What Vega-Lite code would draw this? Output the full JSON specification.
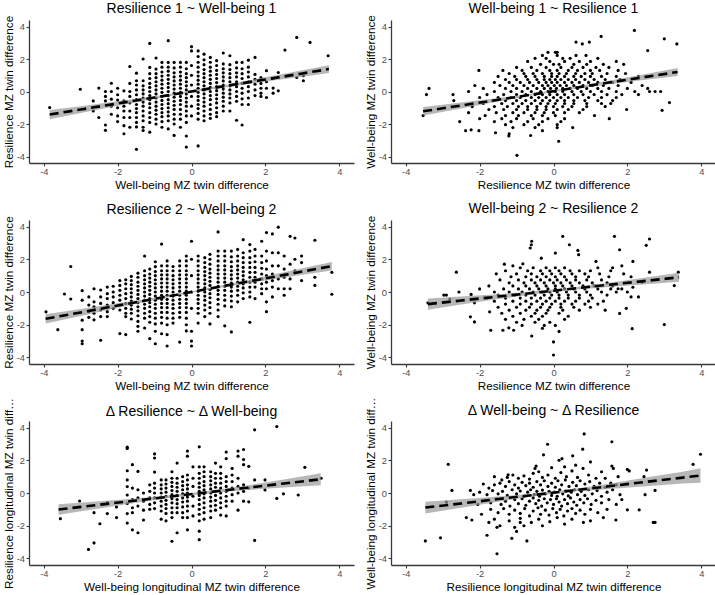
{
"$schema": "https://vega.github.io/schema/vega-lite/v6.json",
"padding": {"left": 3, "top": 1, "right": 0, "bottom": 0},
"config": {
  "view": {"stroke": null},
  "font": "Liberation Sans",
  "title": {"fontSize": 14, "font": "Liberation Sans", "fontWeight": "normal", "color": "#000", "anchor": "middle", "offset": -1, "frame": "group"},
  "axis": {"grid": false, "domainColor": "#3a3a3a", "domainWidth": 1.3, "tickColor": "#3a3a3a", "tickWidth": 1.1, "tickSize": 3, "labelColor": "#4d4d4d", "labelFontSize": 9.3, "labelFont": "Liberation Sans", "titleFont": "Liberation Sans", "titleFontSize": 11.7, "titleFontWeight": "normal", "titleColor": "#000", "labelPadding": 1.5, "labelExpr": "datum.value < 0 ? '-' + abs(datum.value) : '' + datum.value"},
  "axisX": {"titlePadding": 3},
  "axisY": {"titlePadding": 1.5}
},
"columns": 2,
"bounds": "flush",
"spacing": {"row": 57, "column": 37},
"datasets": {
"a": [
{"x":-3.84,"y":-0.99},{"x":-3.01,"y":0.14},{"x":-2.66,"y":-0.58},{"x":-2.66,"y":-1.2},{"x":-2.51,"y":0.21},{"x":-2.51,"y":-1.6},{"x":-2.33,"y":0},{"x":-2.33,"y":-0.3},{"x":-2.33,"y":-0.58},{"x":-2.33,"y":-2.06},{"x":-2.33,"y":-2.39},{"x":-2.17,"y":0.51},{"x":-2.17,"y":0},{"x":-2.17,"y":-0.47},{"x":-2.17,"y":-0.9},{"x":-2.17,"y":-1.4},{"x":-2,"y":0.2},{"x":-2,"y":-0.2},{"x":-2,"y":-0.53},{"x":-2,"y":-1},{"x":-2,"y":-1.5},{"x":-2,"y":-1.85},{"x":-1.83,"y":0.04},{"x":-1.83,"y":-0.58},{"x":-1.83,"y":-0.9},{"x":-1.83,"y":-1.2},{"x":-1.83,"y":-1.6},{"x":-1.83,"y":-2.1},{"x":-1.83,"y":-2.6},{"x":-1.67,"y":1.54},{"x":-1.67,"y":0.5},{"x":-1.67,"y":0},{"x":-1.67,"y":-0.3},{"x":-1.67,"y":-0.7},{"x":-1.67,"y":-1.2},{"x":-1.67,"y":-1.6},{"x":-1.67,"y":-2.2},
{"x":-1.49,"y":1.13},{"x":-1.49,"y":0.66},{"x":-1.49,"y":0.4},{"x":-1.49,"y":0.1},{"x":-1.49,"y":-0.2},{"x":-1.49,"y":-0.5},{"x":-1.49,"y":-0.8},{"x":-1.49,"y":-1.05},{"x":-1.49,"y":-1.3},{"x":-1.49,"y":-1.6},{"x":-1.49,"y":-1.9},{"x":-1.49,"y":-2.18},{"x":-1.49,"y":-3.56},
{"x":-1.31,"y":2},{"x":-1.31,"y":0.66},{"x":-1.31,"y":0.35},{"x":-1.31,"y":0.1},{"x":-1.31,"y":-0.15},{"x":-1.31,"y":-0.4},{"x":-1.31,"y":-0.65},{"x":-1.31,"y":-0.9},{"x":-1.31,"y":-1.2},{"x":-1.31,"y":-1.5},{"x":-1.31,"y":-1.8},{"x":-1.31,"y":-2.2},{"x":-1.31,"y":-2.4},
{"x":-1.13,"y":2.96},{"x":-1.13,"y":1.48},{"x":-1.13,"y":1.1},{"x":-1.13,"y":0.8},{"x":-1.13,"y":0.5},{"x":-1.13,"y":0.25},{"x":-1.13,"y":0},{"x":-1.13,"y":-0.25},{"x":-1.13,"y":-0.5},{"x":-1.13,"y":-0.75},{"x":-1.13,"y":-1},{"x":-1.13,"y":-1.3},{"x":-1.13,"y":-1.6},{"x":-1.13,"y":-1.9},{"x":-1.13,"y":-2.5},
{"x":-0.96,"y":2.06},{"x":-0.96,"y":1.38},{"x":-0.96,"y":1.1},{"x":-0.96,"y":0.85},{"x":-0.96,"y":0.6},{"x":-0.96,"y":0.35},{"x":-0.96,"y":0.1},{"x":-0.96,"y":-0.15},{"x":-0.96,"y":-0.4},{"x":-0.96,"y":-0.65},{"x":-0.96,"y":-0.9},{"x":-0.96,"y":-1.15},{"x":-0.96,"y":-1.4},{"x":-0.96,"y":-1.7},{"x":-0.96,"y":-2},
{"x":-0.8,"y":1.79},{"x":-0.8,"y":1.5},{"x":-0.8,"y":1.2},{"x":-0.8,"y":0.95},{"x":-0.8,"y":0.7},{"x":-0.8,"y":0.45},{"x":-0.8,"y":0.2},{"x":-0.8,"y":-0.05},{"x":-0.8,"y":-0.3},{"x":-0.8,"y":-0.55},{"x":-0.8,"y":-0.8},{"x":-0.8,"y":-1.05},{"x":-0.8,"y":-1.3},{"x":-0.8,"y":-1.55},{"x":-0.8,"y":-1.85},{"x":-0.8,"y":-2.2},
{"x":-0.63,"y":3.13},{"x":-0.63,"y":1.79},{"x":-0.63,"y":1.5},{"x":-0.63,"y":1.25},{"x":-0.63,"y":1},{"x":-0.63,"y":0.75},{"x":-0.63,"y":0.5},{"x":-0.63,"y":0.25},{"x":-0.63,"y":0},{"x":-0.63,"y":-0.25},{"x":-0.63,"y":-0.5},{"x":-0.63,"y":-0.75},{"x":-0.63,"y":-1},{"x":-0.63,"y":-1.25},{"x":-0.63,"y":-1.5},{"x":-0.63,"y":-1.8},{"x":-0.63,"y":-2.3},
{"x":-0.47,"y":1.79},{"x":-0.47,"y":1.45},{"x":-0.47,"y":1.15},{"x":-0.47,"y":0.9},{"x":-0.47,"y":0.65},{"x":-0.47,"y":0.4},{"x":-0.47,"y":0.15},{"x":-0.47,"y":-0.1},{"x":-0.47,"y":-0.35},{"x":-0.47,"y":-0.6},{"x":-0.47,"y":-0.85},{"x":-0.47,"y":-1.1},{"x":-0.47,"y":-1.4},{"x":-0.47,"y":-1.7},{"x":-0.47,"y":-2},{"x":-0.47,"y":-2.7},
{"x":-0.3,"y":1.79},{"x":-0.3,"y":1.5},{"x":-0.3,"y":1.2},{"x":-0.3,"y":0.95},{"x":-0.3,"y":0.7},{"x":-0.3,"y":0.45},{"x":-0.3,"y":0.2},{"x":-0.3,"y":-0.05},{"x":-0.3,"y":-0.3},{"x":-0.3,"y":-0.55},{"x":-0.3,"y":-0.8},{"x":-0.3,"y":-1.1},{"x":-0.3,"y":-1.4},{"x":-0.3,"y":-1.7},{"x":-0.3,"y":-2.2},
{"x":-0.14,"y":1.79},{"x":-0.14,"y":1.4},{"x":-0.14,"y":1.1},{"x":-0.14,"y":0.85},{"x":-0.14,"y":0.6},{"x":-0.14,"y":0.35},{"x":-0.14,"y":0.1},{"x":-0.14,"y":-0.15},{"x":-0.14,"y":-0.4},{"x":-0.14,"y":-0.65},{"x":-0.14,"y":-0.9},{"x":-0.14,"y":-1.2},{"x":-0.14,"y":-1.5},{"x":-0.14,"y":-1.9},{"x":-0.14,"y":-2.74},{"x":-0.14,"y":-3.42},
{"x":0,"y":2.76},{"x":0,"y":2.5},{"x":0,"y":1.6},{"x":0,"y":1},{"x":0,"y":0.4},{"x":0,"y":-0.3},{"x":0,"y":-0.9},{"x":0,"y":-1.5},
{"x":0.18,"y":2.5},{"x":0.18,"y":2.15},{"x":0.18,"y":1.8},{"x":0.18,"y":1.5},{"x":0.18,"y":1.2},{"x":0.18,"y":0.95},{"x":0.18,"y":0.7},{"x":0.18,"y":0.45},{"x":0.18,"y":0.2},{"x":0.18,"y":-0.05},{"x":0.18,"y":-0.3},{"x":0.18,"y":-0.55},{"x":0.18,"y":-0.8},{"x":0.18,"y":-1.05},{"x":0.18,"y":-1.35},{"x":0.18,"y":-1.7},{"x":0.18,"y":-3.35},
{"x":0.34,"y":2.3},{"x":0.34,"y":1.95},{"x":0.34,"y":1.65},{"x":0.34,"y":1.35},{"x":0.34,"y":1.1},{"x":0.34,"y":0.85},{"x":0.34,"y":0.6},{"x":0.34,"y":0.35},{"x":0.34,"y":0.1},{"x":0.34,"y":-0.15},{"x":0.34,"y":-0.4},{"x":0.34,"y":-0.65},{"x":0.34,"y":-0.9},{"x":0.34,"y":-1.2},{"x":0.34,"y":-1.5},{"x":0.34,"y":-1.8},
{"x":0.51,"y":2.1},{"x":0.51,"y":1.8},{"x":0.51,"y":1.5},{"x":0.51,"y":1.25},{"x":0.51,"y":1},{"x":0.51,"y":0.75},{"x":0.51,"y":0.5},{"x":0.51,"y":0.25},{"x":0.51,"y":0},{"x":0.51,"y":-0.25},{"x":0.51,"y":-0.5},{"x":0.51,"y":-0.8},{"x":0.51,"y":-1.1},{"x":0.51,"y":-1.4},{"x":0.51,"y":-1.65},
{"x":0.68,"y":1.9},{"x":0.68,"y":1.6},{"x":0.68,"y":1.3},{"x":0.68,"y":1.05},{"x":0.68,"y":0.8},{"x":0.68,"y":0.55},{"x":0.68,"y":0.3},{"x":0.68,"y":0.05},{"x":0.68,"y":-0.2},{"x":0.68,"y":-0.45},{"x":0.68,"y":-0.7},{"x":0.68,"y":-1},{"x":0.68,"y":-1.3},{"x":0.68,"y":-1.55},
{"x":0.86,"y":2.37},{"x":0.86,"y":1.7},{"x":0.86,"y":1.4},{"x":0.86,"y":1.15},{"x":0.86,"y":0.9},{"x":0.86,"y":0.65},{"x":0.86,"y":0.4},{"x":0.86,"y":0.15},{"x":0.86,"y":-0.1},{"x":0.86,"y":-0.35},{"x":0.86,"y":-0.6},{"x":0.86,"y":-0.9},{"x":0.86,"y":-1.2},
{"x":1.04,"y":2.2},{"x":1.04,"y":1.65},{"x":1.04,"y":1.35},{"x":1.04,"y":1.1},{"x":1.04,"y":0.85},{"x":1.04,"y":0.6},{"x":1.04,"y":0.35},{"x":1.04,"y":0.1},{"x":1.04,"y":-0.15},{"x":1.04,"y":-0.4},{"x":1.04,"y":-0.7},{"x":1.04,"y":-1.2},
{"x":1.22,"y":1.79},{"x":1.22,"y":1.45},{"x":1.22,"y":1.15},{"x":1.22,"y":0.9},{"x":1.22,"y":0.6},{"x":1.22,"y":0.3},{"x":1.22,"y":0},{"x":1.22,"y":-0.3},{"x":1.22,"y":-0.6},{"x":1.22,"y":-1.77},
{"x":1.37,"y":1.79},{"x":1.37,"y":1.4},{"x":1.37,"y":1.1},{"x":1.37,"y":0.8},{"x":1.37,"y":0.5},{"x":1.37,"y":0.2},{"x":1.37,"y":-0.1},{"x":1.37,"y":-0.45},{"x":1.37,"y":-0.8},{"x":1.37,"y":-2.06},
{"x":1.54,"y":1.93},{"x":1.54,"y":1.5},{"x":1.54,"y":1.2},{"x":1.54,"y":0.9},{"x":1.54,"y":0.6},{"x":1.54,"y":0.3},{"x":1.54,"y":0},{"x":1.54,"y":-0.4},{"x":1.54,"y":-0.8},
{"x":1.72,"y":2.1},{"x":1.72,"y":1.05},{"x":1.72,"y":0.75},{"x":1.72,"y":0.45},{"x":1.72,"y":0.1},{"x":1.72,"y":-0.25},
{"x":1.88,"y":0.85},{"x":1.88,"y":0.5},{"x":1.88,"y":0.2},{"x":1.88,"y":-0.1},{"x":1.88,"y":-0.3},
{"x":2.03,"y":1.28},{"x":2.03,"y":0.6},{"x":2.03,"y":0.2},{"x":2.03,"y":-0.37},{"x":2.21,"y":0.8},{"x":2.21,"y":0.21},{"x":2.21,"y":-0.1},{"x":2.35,"y":1.17},{"x":2.35,"y":0.04},
{"x":2.53,"y":2.55},{"x":2.85,"y":3.33},{"x":2.85,"y":0.86},{"x":3.03,"y":0.97},{"x":3.03,"y":0.66},{"x":3.21,"y":3.02},{"x":3.7,"y":2.2}
],
"b": [
{"x":-0.15,"y":2.41},{"x":0.05,"y":2.41},{"x":0.1,"y":2.41},
{"x":-0.3,"y":2.22},{"x":0.1,"y":2.22},{"x":0.61,"y":2.22},{"x":0.88,"y":2.22},
{"x":-0.5,"y":2.04},{"x":-0.2,"y":2.04},{"x":0.25,"y":2.04},{"x":0.45,"y":2.04},{"x":1.2,"y":2.04},
{"x":-0.7,"y":1.85},{"x":-0.1,"y":1.85},{"x":0.3,"y":1.85},{"x":0.7,"y":1.85},{"x":1,"y":1.85},{"x":1.7,"y":1.85},
{"x":-0.35,"y":1.67},{"x":0,"y":1.67},{"x":0.15,"y":1.67},{"x":0.55,"y":1.67},{"x":0.9,"y":1.67},{"x":1.35,"y":1.67},{"x":1.9,"y":1.67},
{"x":-1,"y":1.48},{"x":-0.6,"y":1.48},{"x":-0.2,"y":1.48},{"x":0.2,"y":1.48},{"x":0.5,"y":1.48},{"x":0.8,"y":1.48},{"x":1.15,"y":1.48},{"x":1.5,"y":1.48},
{"x":-2.02,"y":1.3},{"x":-1.37,"y":1.3},{"x":-0.85,"y":1.3},{"x":-0.45,"y":1.3},{"x":-0.1,"y":1.3},{"x":0.1,"y":1.3},{"x":0.4,"y":1.3},{"x":0.65,"y":1.3},{"x":1,"y":1.3},{"x":1.25,"y":1.3},{"x":1.75,"y":1.3},
{"x":-1.2,"y":1.11},{"x":-0.8,"y":1.11},{"x":-0.55,"y":1.11},{"x":-0.3,"y":1.11},{"x":-0.05,"y":1.11},{"x":0.15,"y":1.11},{"x":0.35,"y":1.11},{"x":0.6,"y":1.11},{"x":0.85,"y":1.11},{"x":1.05,"y":1.11},{"x":1.45,"y":1.11},{"x":1.95,"y":1.11},
{"x":-1.5,"y":0.93},{"x":-1.05,"y":0.93},{"x":-0.75,"y":0.93},{"x":-0.5,"y":0.93},{"x":-0.25,"y":0.93},{"x":-0.05,"y":0.93},{"x":0.1,"y":0.93},{"x":0.3,"y":0.93},{"x":0.55,"y":0.93},{"x":0.75,"y":0.93},{"x":1,"y":0.93},{"x":1.3,"y":0.93},{"x":1.7,"y":0.93},{"x":2.3,"y":0.93},
{"x":-1.3,"y":0.74},{"x":-1,"y":0.74},{"x":-0.7,"y":0.74},{"x":-0.45,"y":0.74},{"x":-0.25,"y":0.74},{"x":-0.1,"y":0.74},{"x":0.05,"y":0.74},{"x":0.2,"y":0.74},{"x":0.4,"y":0.74},{"x":0.6,"y":0.74},{"x":0.85,"y":0.74},{"x":1.1,"y":0.74},{"x":1.4,"y":0.74},{"x":1.8,"y":0.74},
{"x":-1.6,"y":0.56},{"x":-1.2,"y":0.56},{"x":-0.9,"y":0.56},{"x":-0.65,"y":0.56},{"x":-0.4,"y":0.56},{"x":-0.2,"y":0.56},{"x":-0.05,"y":0.56},{"x":0.1,"y":0.56},{"x":0.3,"y":0.56},{"x":0.5,"y":0.56},{"x":0.7,"y":0.56},{"x":0.95,"y":0.56},{"x":1.2,"y":0.56},{"x":1.6,"y":0.56},{"x":2.1,"y":0.56},
{"x":-2.13,"y":0.37},{"x":-1.45,"y":0.37},{"x":-1.1,"y":0.37},{"x":-0.8,"y":0.37},{"x":-0.55,"y":0.37},{"x":-0.3,"y":0.37},{"x":-0.15,"y":0.37},{"x":0.02,"y":0.37},{"x":0.18,"y":0.37},{"x":0.35,"y":0.37},{"x":0.55,"y":0.37},{"x":0.8,"y":0.37},{"x":1.05,"y":0.37},{"x":1.35,"y":0.37},{"x":1.75,"y":0.37},{"x":2.4,"y":0.37},
{"x":-3.37,"y":0.19},{"x":-1.9,"y":0.19},{"x":-1.3,"y":0.19},{"x":-1,"y":0.19},{"x":-0.7,"y":0.19},{"x":-0.45,"y":0.19},{"x":-0.25,"y":0.19},{"x":-0.08,"y":0.19},{"x":0.08,"y":0.19},{"x":0.25,"y":0.19},{"x":0.45,"y":0.19},{"x":0.65,"y":0.19},{"x":0.9,"y":0.19},{"x":1.2,"y":0.19},{"x":1.5,"y":0.19},{"x":2,"y":0.19},{"x":2.55,"y":0.19},
{"x":-2.3,"y":0},{"x":-1.6,"y":0},{"x":-1.15,"y":0},{"x":-0.85,"y":0},{"x":-0.6,"y":0},{"x":-0.35,"y":0},{"x":-0.15,"y":0},{"x":0.05,"y":0},{"x":0.25,"y":0},{"x":0.5,"y":0},{"x":0.75,"y":0},{"x":1,"y":0},{"x":1.3,"y":0},{"x":1.7,"y":0},{"x":2.2,"y":0},{"x":2.6,"y":0},{"x":2.75,"y":0},{"x":2.9,"y":0},
{"x":-3.44,"y":-0.19},{"x":-2.72,"y":-0.19},{"x":-1.8,"y":-0.19},{"x":-1.35,"y":-0.19},{"x":-1,"y":-0.19},{"x":-0.75,"y":-0.19},{"x":-0.5,"y":-0.19},{"x":-0.3,"y":-0.19},{"x":-0.1,"y":-0.19},{"x":0.1,"y":-0.19},{"x":0.3,"y":-0.19},{"x":0.55,"y":-0.19},{"x":0.8,"y":-0.19},{"x":1.1,"y":-0.19},{"x":1.45,"y":-0.19},{"x":1.85,"y":-0.19},{"x":2.3,"y":-0.19},
{"x":-2,"y":-0.37},{"x":-1.5,"y":-0.37},{"x":-1.15,"y":-0.37},{"x":-0.9,"y":-0.37},{"x":-0.6,"y":-0.37},{"x":-0.4,"y":-0.37},{"x":-0.2,"y":-0.37},{"x":0,"y":-0.37},{"x":0.2,"y":-0.37},{"x":0.4,"y":-0.37},{"x":0.65,"y":-0.37},{"x":0.95,"y":-0.37},{"x":1.3,"y":-0.37},{"x":1.7,"y":-0.37},
{"x":-2.7,"y":-0.56},{"x":-1.65,"y":-0.56},{"x":-1.3,"y":-0.56},{"x":-1,"y":-0.56},{"x":-0.75,"y":-0.56},{"x":-0.5,"y":-0.56},{"x":-0.3,"y":-0.56},{"x":-0.1,"y":-0.56},{"x":0.1,"y":-0.56},{"x":0.3,"y":-0.56},{"x":0.55,"y":-0.56},{"x":0.85,"y":-0.56},{"x":1.2,"y":-0.56},{"x":1.6,"y":-0.56},
{"x":-1.9,"y":-0.74},{"x":-1.4,"y":-0.74},{"x":-1.1,"y":-0.74},{"x":-0.85,"y":-0.74},{"x":-0.6,"y":-0.74},{"x":-0.35,"y":-0.74},{"x":-0.15,"y":-0.74},{"x":0.05,"y":-0.74},{"x":0.3,"y":-0.74},{"x":0.55,"y":-0.74},{"x":0.9,"y":-0.74},{"x":1.3,"y":-0.74},{"x":1.55,"y":-0.74},{"x":3.14,"y":-0.68},
{"x":-2.2,"y":-0.93},{"x":-1.6,"y":-0.93},{"x":-1.25,"y":-0.93},{"x":-0.95,"y":-0.93},{"x":-0.7,"y":-0.93},{"x":-0.45,"y":-0.93},{"x":-0.2,"y":-0.93},{"x":0,"y":-0.93},{"x":0.25,"y":-0.93},{"x":0.5,"y":-0.93},{"x":0.9,"y":-0.93},{"x":1.4,"y":-0.93},
{"x":-1.75,"y":-1.11},{"x":-1.35,"y":-1.11},{"x":-1,"y":-1.11},{"x":-0.7,"y":-1.11},{"x":-0.45,"y":-1.11},{"x":-0.2,"y":-1.11},{"x":0.1,"y":-1.11},{"x":0.4,"y":-1.11},{"x":0.8,"y":-1.11},{"x":1.98,"y":-1.11},{"x":2.94,"y":-1.16},
{"x":-2.3,"y":-1.3},{"x":-1.55,"y":-1.3},{"x":-1.1,"y":-1.3},{"x":-0.8,"y":-1.3},{"x":-0.5,"y":-1.3},{"x":-0.25,"y":-1.3},{"x":0,"y":-1.3},{"x":0.3,"y":-1.3},{"x":0.7,"y":-1.3},
{"x":-3.53,"y":-1.48},{"x":-1.85,"y":-1.48},{"x":-1.3,"y":-1.48},{"x":-0.95,"y":-1.48},{"x":-0.6,"y":-1.48},{"x":-0.3,"y":-1.48},{"x":0.05,"y":-1.48},{"x":1.11,"y":-1.48},
{"x":-2,"y":-1.67},{"x":-1.4,"y":-1.67},{"x":-1,"y":-1.67},{"x":-0.55,"y":-1.67},{"x":-0.15,"y":-1.67},{"x":0.3,"y":-1.67},{"x":1.51,"y":-1.67},
{"x":-2.54,"y":-1.85},{"x":-1.6,"y":-1.85},{"x":-1.15,"y":-1.85},{"x":-0.7,"y":-1.85},{"x":-0.3,"y":-1.85},{"x":0.2,"y":-1.85},
{"x":-1.3,"y":-2.04},{"x":-0.8,"y":-2.04},{"x":-0.4,"y":-2.04},{"x":0.1,"y":-2.04},
{"x":-1.1,"y":-2.22},{"x":-0.5,"y":-2.22},{"x":0.1,"y":-2.22},{"x":0.52,"y":-2.22},
{"x":-2.38,"y":-2.41},{"x":-2.23,"y":-2.36},{"x":-2.02,"y":-2.41},{"x":-1.57,"y":-2.54},{"x":-0.3,"y":-2.41},{"x":-1.2,"y":-2.6},{"x":-1.21,"y":-2.74},{"x":-0.62,"y":-2.71},
{"x":-0.99,"y":-3.93},{"x":0.14,"y":-3.06},{"x":0.61,"y":3.04},{"x":0.78,"y":2.93},{"x":0.97,"y":3.04},{"x":1.29,"y":3.39},{"x":2.19,"y":3.76},{"x":3,"y":3.24},{"x":3.34,"y":2.93},{"x":2.55,"y":2.52}
],
"c": [
{"x":-3.94,"y":-1.21},{"x":-3.62,"y":-2.3},{"x":-3.44,"y":-0.12},{"x":-3.27,"y":-0.43},{"x":-3.27,"y":1.56},
{"x":-2.96,"y":0.08},{"x":-2.96,"y":-0.5},{"x":-2.96,"y":-1.72},{"x":-2.96,"y":-2.3},{"x":-2.96,"y":-3},{"x":-2.96,"y":-3.16},
{"x":-2.78,"y":-0.3},{"x":-2.78,"y":-0.8},{"x":-2.78,"y":-1.2},{"x":-2.78,"y":-1.55},
{"x":-2.64,"y":0.2},{"x":-2.64,"y":-0.6},{"x":-2.64,"y":-0.9},{"x":-2.64,"y":-1.3},{"x":-2.64,"y":-1.7},
{"x":-2.46,"y":0.12},{"x":-2.46,"y":-0.3},{"x":-2.46,"y":-0.7},{"x":-2.46,"y":-1.1},{"x":-2.46,"y":-1.5},{"x":-2.46,"y":-2.95},
{"x":-2.28,"y":0.3},{"x":-2.28,"y":-0.1},{"x":-2.28,"y":-0.4},{"x":-2.28,"y":-0.8},{"x":-2.28,"y":-1.2},{"x":-2.28,"y":-1.5},
{"x":-2.12,"y":0.35},{"x":-2.12,"y":0},{"x":-2.12,"y":-0.3},{"x":-2.12,"y":-0.65},{"x":-2.12,"y":-1},
{"x":-1.94,"y":0.7},{"x":-1.94,"y":0.4},{"x":-1.94,"y":0.1},{"x":-1.94,"y":-0.2},{"x":-1.94,"y":-0.5},{"x":-1.94,"y":-0.8},{"x":-1.94,"y":-1.1},{"x":-1.94,"y":-2.54},
{"x":-1.78,"y":0.75},{"x":-1.78,"y":0.5},{"x":-1.78,"y":0.2},{"x":-1.78,"y":-0.1},{"x":-1.78,"y":-0.4},{"x":-1.78,"y":-0.7},{"x":-1.78,"y":-1},{"x":-1.78,"y":-1.3},{"x":-1.78,"y":-1.5},{"x":-1.78,"y":-2.6},
{"x":-1.63,"y":0.95},{"x":-1.63,"y":0.7},{"x":-1.63,"y":0.45},{"x":-1.63,"y":0.2},{"x":-1.63,"y":-0.05},{"x":-1.63,"y":-0.3},{"x":-1.63,"y":-0.55},{"x":-1.63,"y":-0.8},{"x":-1.63,"y":-1.05},{"x":-1.63,"y":-1.3},{"x":-1.63,"y":-1.65},
{"x":-1.45,"y":1.15},{"x":-1.45,"y":0.9},{"x":-1.45,"y":0.6},{"x":-1.45,"y":0.35},{"x":-1.45,"y":0.1},{"x":-1.45,"y":-0.15},{"x":-1.45,"y":-0.4},{"x":-1.45,"y":-0.65},{"x":-1.45,"y":-0.9},{"x":-1.45,"y":-1.15},{"x":-1.45,"y":-1.45},{"x":-1.45,"y":-1.8},{"x":-1.45,"y":-2.1},{"x":-1.45,"y":-2.4},
{"x":-1.27,"y":2.2},{"x":-1.27,"y":1.3},{"x":-1.27,"y":1},{"x":-1.27,"y":0.75},{"x":-1.27,"y":0.5},{"x":-1.27,"y":0.25},{"x":-1.27,"y":0},{"x":-1.27,"y":-0.25},{"x":-1.27,"y":-0.5},{"x":-1.27,"y":-0.75},{"x":-1.27,"y":-1},{"x":-1.27,"y":-1.3},{"x":-1.27,"y":-1.6},{"x":-1.27,"y":-2.2},
{"x":-1.13,"y":1.4},{"x":-1.13,"y":1.1},{"x":-1.13,"y":0.85},{"x":-1.13,"y":0.6},{"x":-1.13,"y":0.35},{"x":-1.13,"y":0.1},{"x":-1.13,"y":-0.15},{"x":-1.13,"y":-0.4},{"x":-1.13,"y":-0.65},{"x":-1.13,"y":-0.9},{"x":-1.13,"y":-1.2},{"x":-1.13,"y":-1.5},{"x":-1.13,"y":-1.85},{"x":-1.13,"y":-2.85},
{"x":-0.98,"y":1.85},{"x":-0.98,"y":1.55},{"x":-0.98,"y":1.25},{"x":-0.98,"y":1},{"x":-0.98,"y":0.75},{"x":-0.98,"y":0.5},{"x":-0.98,"y":0.25},{"x":-0.98,"y":0},{"x":-0.98,"y":-0.25},{"x":-0.98,"y":-0.5},{"x":-0.98,"y":-0.75},{"x":-0.98,"y":-1},{"x":-0.98,"y":-1.3},{"x":-0.98,"y":-1.6},{"x":-0.98,"y":-1.95},{"x":-0.98,"y":-2.4},{"x":-0.98,"y":-3.16},
{"x":-0.81,"y":2.93},{"x":-0.81,"y":1.6},{"x":-0.81,"y":1.3},{"x":-0.81,"y":1.05},{"x":-0.81,"y":0.8},{"x":-0.81,"y":0.55},{"x":-0.81,"y":0.3},{"x":-0.81,"y":0.05},{"x":-0.81,"y":-0.2},{"x":-0.81,"y":-0.45},{"x":-0.81,"y":-0.7},{"x":-0.81,"y":-0.95},{"x":-0.81,"y":-1.25},{"x":-0.81,"y":-1.55},{"x":-0.81,"y":-1.9},{"x":-0.81,"y":-2.55},
{"x":-0.66,"y":1.9},{"x":-0.66,"y":1.6},{"x":-0.66,"y":1.3},{"x":-0.66,"y":1.05},{"x":-0.66,"y":0.8},{"x":-0.66,"y":0.55},{"x":-0.66,"y":0.3},{"x":-0.66,"y":0.05},{"x":-0.66,"y":-0.2},{"x":-0.66,"y":-0.45},{"x":-0.66,"y":-0.7},{"x":-0.66,"y":-0.95},{"x":-0.66,"y":-1.25},{"x":-0.66,"y":-1.6},{"x":-0.66,"y":-2},{"x":-0.66,"y":-2.6},{"x":-0.66,"y":-3.3},
{"x":-0.5,"y":1.56},{"x":-0.5,"y":1.3},{"x":-0.5,"y":1},{"x":-0.5,"y":0.75},{"x":-0.5,"y":0.5},{"x":-0.5,"y":0.25},{"x":-0.5,"y":0},{"x":-0.5,"y":-0.25},{"x":-0.5,"y":-0.5},{"x":-0.5,"y":-0.75},{"x":-0.5,"y":-1},{"x":-0.5,"y":-1.3},{"x":-0.5,"y":-1.6},{"x":-0.5,"y":-1.9},
{"x":-0.32,"y":1.9},{"x":-0.32,"y":1.6},{"x":-0.32,"y":1.3},{"x":-0.32,"y":1.05},{"x":-0.32,"y":0.8},{"x":-0.32,"y":0.55},{"x":-0.32,"y":0.3},{"x":-0.32,"y":0.05},{"x":-0.32,"y":-0.2},{"x":-0.32,"y":-0.45},{"x":-0.32,"y":-0.7},{"x":-0.32,"y":-0.95},{"x":-0.32,"y":-1.25},{"x":-0.32,"y":-1.55},{"x":-0.32,"y":-3.06},
{"x":-0.14,"y":2.2},{"x":-0.14,"y":1.9},{"x":-0.14,"y":1.6},{"x":-0.14,"y":1.3},{"x":-0.14,"y":1.05},{"x":-0.14,"y":0.8},{"x":-0.14,"y":0.55},{"x":-0.14,"y":0.3},{"x":-0.14,"y":0.05},{"x":-0.14,"y":-0.2},{"x":-0.14,"y":-0.45},{"x":-0.14,"y":-0.7},{"x":-0.14,"y":-0.95},{"x":-0.14,"y":-1.25},{"x":-0.14,"y":-1.6},{"x":-0.14,"y":-2},{"x":-0.14,"y":-2.38},
{"x":0,"y":3.1},{"x":0,"y":2},{"x":0,"y":1},{"x":0,"y":0},{"x":0,"y":-1},{"x":0,"y":-2.4},{"x":0,"y":-3},{"x":0,"y":-3.3},
{"x":0.18,"y":2.2},{"x":0.18,"y":1.9},{"x":0.18,"y":1.6},{"x":0.18,"y":1.3},{"x":0.18,"y":1.05},{"x":0.18,"y":0.8},{"x":0.18,"y":0.55},{"x":0.18,"y":0.3},{"x":0.18,"y":0.05},{"x":0.18,"y":-0.2},{"x":0.18,"y":-0.45},{"x":0.18,"y":-0.7},{"x":0.18,"y":-1},{"x":0.18,"y":-1.3},{"x":0.18,"y":-1.9},
{"x":0.36,"y":2.1},{"x":0.36,"y":1.8},{"x":0.36,"y":1.5},{"x":0.36,"y":1.25},{"x":0.36,"y":1},{"x":0.36,"y":0.75},{"x":0.36,"y":0.5},{"x":0.36,"y":0.25},{"x":0.36,"y":0},{"x":0.36,"y":-0.25},{"x":0.36,"y":-0.5},{"x":0.36,"y":-0.8},{"x":0.36,"y":-1.1},{"x":0.36,"y":-1.5},
{"x":0.5,"y":2.3},{"x":0.5,"y":2},{"x":0.5,"y":1.7},{"x":0.5,"y":1.4},{"x":0.5,"y":1.15},{"x":0.5,"y":0.9},{"x":0.5,"y":0.65},{"x":0.5,"y":0.4},{"x":0.5,"y":0.15},{"x":0.5,"y":-0.1},{"x":0.5,"y":-0.35},{"x":0.5,"y":-0.65},{"x":0.5,"y":-0.95},{"x":0.5,"y":-1.3},{"x":0.5,"y":-1.95},
{"x":0.72,"y":3.67},{"x":0.72,"y":2.5},{"x":0.72,"y":2.2},{"x":0.72,"y":1.9},{"x":0.72,"y":1.6},{"x":0.72,"y":1.35},{"x":0.72,"y":1.1},{"x":0.72,"y":0.85},{"x":0.72,"y":0.6},{"x":0.72,"y":0.35},{"x":0.72,"y":0.1},{"x":0.72,"y":-0.15},{"x":0.72,"y":-0.45},{"x":0.72,"y":-0.75},{"x":0.72,"y":-1.1},{"x":0.72,"y":-1.5},
{"x":0.9,"y":2.5},{"x":0.9,"y":2.2},{"x":0.9,"y":1.9},{"x":0.9,"y":1.6},{"x":0.9,"y":1.35},{"x":0.9,"y":1.1},{"x":0.9,"y":0.85},{"x":0.9,"y":0.6},{"x":0.9,"y":0.35},{"x":0.9,"y":0.1},{"x":0.9,"y":-0.2},{"x":0.9,"y":-0.5},{"x":0.9,"y":-0.85},{"x":0.9,"y":-2.07},
{"x":1.08,"y":2.5},{"x":1.08,"y":2.15},{"x":1.08,"y":1.85},{"x":1.08,"y":1.55},{"x":1.08,"y":1.3},{"x":1.08,"y":1.05},{"x":1.08,"y":0.8},{"x":1.08,"y":0.55},{"x":1.08,"y":0.3},{"x":1.08,"y":0.05},{"x":1.08,"y":-0.25},{"x":1.08,"y":-0.55},{"x":1.08,"y":-0.9},{"x":1.08,"y":-2.44},
{"x":1.25,"y":2.6},{"x":1.25,"y":2.2},{"x":1.25,"y":1.9},{"x":1.25,"y":1.6},{"x":1.25,"y":1.35},{"x":1.25,"y":1.1},{"x":1.25,"y":0.85},{"x":1.25,"y":0.6},{"x":1.25,"y":0.35},{"x":1.25,"y":0.1},{"x":1.25,"y":-0.2},{"x":1.25,"y":-0.6},
{"x":1.4,"y":3.2},{"x":1.4,"y":2.4},{"x":1.4,"y":2.1},{"x":1.4,"y":1.8},{"x":1.4,"y":1.5},{"x":1.4,"y":1.25},{"x":1.4,"y":1},{"x":1.4,"y":0.75},{"x":1.4,"y":0.5},{"x":1.4,"y":0.25},{"x":1.4,"y":-0.05},{"x":1.4,"y":-0.4},
{"x":1.58,"y":2.9},{"x":1.58,"y":2.5},{"x":1.58,"y":2.1},{"x":1.58,"y":1.8},{"x":1.58,"y":1.5},{"x":1.58,"y":1.2},{"x":1.58,"y":0.9},{"x":1.58,"y":0.6},{"x":1.58,"y":0.3},{"x":1.58,"y":0},{"x":1.58,"y":-0.3},{"x":1.58,"y":-1.85},
{"x":1.72,"y":2.6},{"x":1.72,"y":2.2},{"x":1.72,"y":1.85},{"x":1.72,"y":1.5},{"x":1.72,"y":1.2},{"x":1.72,"y":0.9},{"x":1.72,"y":0.6},{"x":1.72,"y":0.3},{"x":1.72,"y":-0.4},
{"x":1.9,"y":3.1},{"x":1.9,"y":2.2},{"x":1.9,"y":1.8},{"x":1.9,"y":1.45},{"x":1.9,"y":1.1},{"x":1.9,"y":0.8},{"x":1.9,"y":0.5},{"x":1.9,"y":0.2},{"x":1.9,"y":-0.1},
{"x":2.03,"y":3.63},{"x":2.03,"y":2.5},{"x":2.03,"y":1.9},{"x":2.03,"y":1.4},{"x":2.03,"y":1},{"x":2.03,"y":0.6},{"x":2.03,"y":0.2},{"x":2.03,"y":-0.6},{"x":2.03,"y":-1.2},
{"x":2.19,"y":3.55},{"x":2.19,"y":2.4},{"x":2.19,"y":1.6},{"x":2.19,"y":1.1},{"x":2.19,"y":0.7},{"x":2.19,"y":0.3},{"x":2.19,"y":-0.3},
{"x":2.35,"y":3.96},{"x":2.35,"y":2.4},{"x":2.35,"y":1.6},{"x":2.35,"y":0.8},{"x":2.35,"y":0.2},
{"x":2.51,"y":2.2},{"x":2.51,"y":1.4},{"x":2.51,"y":0.9},{"x":2.51,"y":0.2},{"x":2.51,"y":-0.2},
{"x":2.67,"y":3.4},{"x":2.67,"y":1.7},{"x":2.67,"y":0.8},{"x":2.67,"y":0.2},
{"x":2.8,"y":3.3},{"x":2.8,"y":2},{"x":2.8,"y":1.3},{"x":2.98,"y":2.2},{"x":2.98,"y":1.8},{"x":2.98,"y":0.7},{"x":3.34,"y":3.16},{"x":3.34,"y":0.9},{"x":3.34,"y":0.4},{"x":3.8,"y":1.2},{"x":3.8,"y":-0.14}
],
"d": [
{"x":-0.9,"y":1.48},{"x":-0.55,"y":1.48},{"x":-0.2,"y":1.48},{"x":0.05,"y":1.48},{"x":0.3,"y":1.48},{"x":1.2,"y":1.48},{"x":1.6,"y":1.48},
{"x":-1.3,"y":1.3},{"x":-0.7,"y":1.3},{"x":-0.35,"y":1.3},{"x":-0.1,"y":1.3},{"x":0.15,"y":1.3},{"x":0.45,"y":1.3},{"x":0.7,"y":1.3},{"x":1,"y":1.3},{"x":1.55,"y":1.3},
{"x":-1.55,"y":1.11},{"x":-1,"y":1.11},{"x":-0.6,"y":1.11},{"x":-0.3,"y":1.11},{"x":-0.05,"y":1.11},{"x":0.2,"y":1.11},{"x":0.5,"y":1.11},{"x":0.85,"y":1.11},{"x":1.25,"y":1.11},{"x":1.9,"y":1.11},
{"x":-1.15,"y":0.93},{"x":-0.75,"y":0.93},{"x":-0.45,"y":0.93},{"x":-0.2,"y":0.93},{"x":0.05,"y":0.93},{"x":0.3,"y":0.93},{"x":0.6,"y":0.93},{"x":0.95,"y":0.93},{"x":1.5,"y":0.93},{"x":2.1,"y":0.93},
{"x":-1.45,"y":0.74},{"x":-0.95,"y":0.74},{"x":-0.6,"y":0.74},{"x":-0.35,"y":0.74},{"x":-0.1,"y":0.74},{"x":0.1,"y":0.74},{"x":0.35,"y":0.74},{"x":0.6,"y":0.74},{"x":0.9,"y":0.74},{"x":1.3,"y":0.74},
{"x":-1.2,"y":0.56},{"x":-0.8,"y":0.56},{"x":-0.5,"y":0.56},{"x":-0.25,"y":0.56},{"x":0,"y":0.56},{"x":0.2,"y":0.56},{"x":0.45,"y":0.56},{"x":0.7,"y":0.56},{"x":1.05,"y":0.56},{"x":1.45,"y":0.56},
{"x":-1.75,"y":0.37},{"x":-1.1,"y":0.37},{"x":-0.75,"y":0.37},{"x":-0.45,"y":0.37},{"x":-0.2,"y":0.37},{"x":0.05,"y":0.37},{"x":0.25,"y":0.37},{"x":0.5,"y":0.37},{"x":0.8,"y":0.37},{"x":1.1,"y":0.37},{"x":1.6,"y":0.37},
{"x":-2,"y":0.19},{"x":-1.35,"y":0.19},{"x":-0.95,"y":0.19},{"x":-0.65,"y":0.19},{"x":-0.4,"y":0.19},{"x":-0.15,"y":0.19},{"x":0.05,"y":0.19},{"x":0.3,"y":0.19},{"x":0.55,"y":0.19},{"x":0.85,"y":0.19},{"x":1.2,"y":0.19},{"x":1.55,"y":0.19},{"x":1.85,"y":0.19},
{"x":-2.56,"y":0},{"x":-1.6,"y":0},{"x":-1.2,"y":0},{"x":-0.85,"y":0},{"x":-0.55,"y":0},{"x":-0.3,"y":0},{"x":-0.1,"y":0},{"x":0.1,"y":0},{"x":0.35,"y":0},{"x":0.6,"y":0},{"x":0.9,"y":0},{"x":1.3,"y":0},{"x":1.7,"y":0},{"x":2,"y":0},
{"x":-2.97,"y":-0.19},{"x":-2.9,"y":-0.19},{"x":-2.23,"y":-0.15},{"x":-1.5,"y":-0.19},{"x":-1.05,"y":-0.19},{"x":-0.75,"y":-0.19},{"x":-0.5,"y":-0.19},{"x":-0.25,"y":-0.19},{"x":-0.05,"y":-0.19},{"x":0.15,"y":-0.19},{"x":0.4,"y":-0.19},{"x":0.7,"y":-0.19},{"x":1,"y":-0.19},{"x":1.45,"y":-0.19},
{"x":-1.8,"y":-0.37},{"x":-1.3,"y":-0.37},{"x":-0.9,"y":-0.37},{"x":-0.6,"y":-0.37},{"x":-0.35,"y":-0.37},{"x":-0.1,"y":-0.37},{"x":0.15,"y":-0.37},{"x":0.4,"y":-0.37},{"x":0.7,"y":-0.37},{"x":1.05,"y":-0.37},{"x":2.1,"y":-0.3},{"x":2.3,"y":-0.3},
{"x":-2.81,"y":-0.43},{"x":-1.6,"y":-0.56},{"x":-1.1,"y":-0.56},{"x":-0.75,"y":-0.56},{"x":-0.45,"y":-0.56},{"x":-0.2,"y":-0.56},{"x":0.05,"y":-0.56},{"x":0.3,"y":-0.56},{"x":0.6,"y":-0.56},{"x":0.95,"y":-0.56},{"x":1.35,"y":-0.56},
{"x":-2.14,"y":-0.66},{"x":-1.3,"y":-0.74},{"x":-0.9,"y":-0.74},{"x":-0.6,"y":-0.74},{"x":-0.3,"y":-0.74},{"x":-0.05,"y":-0.74},{"x":0.2,"y":-0.74},{"x":0.5,"y":-0.74},{"x":0.85,"y":-0.74},{"x":1.2,"y":-0.74},
{"x":-1.5,"y":-0.93},{"x":-1,"y":-0.93},{"x":-0.65,"y":-0.93},{"x":-0.35,"y":-0.93},{"x":-0.1,"y":-0.93},{"x":0.2,"y":-0.93},{"x":0.55,"y":-0.93},{"x":1,"y":-0.93},{"x":1.97,"y":-1},
{"x":-1.73,"y":-1.21},{"x":-1.2,"y":-1.11},{"x":-0.75,"y":-1.11},{"x":-0.45,"y":-1.11},{"x":-0.15,"y":-1.11},{"x":0.25,"y":-1.11},{"x":0.7,"y":-1.11},{"x":1.4,"y":-1.11},
{"x":-1.4,"y":-1.3},{"x":-0.9,"y":-1.3},{"x":-0.5,"y":-1.3},{"x":-0.2,"y":-1.3},{"x":0.15,"y":-1.3},{"x":1.79,"y":-1.31},
{"x":-2.25,"y":-1.52},{"x":-1.1,"y":-1.48},{"x":-0.6,"y":-1.48},{"x":-0.3,"y":-1.48},{"x":0.4,"y":-1.48},
{"x":-1.3,"y":-1.67},{"x":-0.8,"y":-1.67},{"x":-0.4,"y":-1.67},{"x":0.3,"y":-1.67},
{"x":-2.14,"y":-1.83},{"x":-1,"y":-1.85},{"x":-0.5,"y":-1.85},{"x":-0.1,"y":-1.85},
{"x":-0.85,"y":-2.04},{"x":-0.25,"y":-2.04},{"x":0.05,"y":-2.04},{"x":-1.21,"y":-2.19},{"x":-0.3,"y":-2.22},
{"x":-1.7,"y":-2.34},{"x":-1.37,"y":-2.34},{"x":-1.08,"y":-2.34},{"x":0.15,"y":-2.41},{"x":-0.59,"y":-2.69},{"x":0,"y":-3.05},{"x":0,"y":-3.85},
{"x":-3.4,"y":-0.66},{"x":-2.63,"y":1.21},{"x":-1.33,"y":1.7},{"x":-1.1,"y":1.6},{"x":-0.83,"y":1.72},{"x":-0.63,"y":2.69},{"x":-0.6,"y":2.89},{"x":-0.59,"y":3.1},{"x":-0.33,"y":2.07},{"x":0.05,"y":2.38},{"x":0.25,"y":3.4},{"x":0.43,"y":2.89},{"x":0.66,"y":2.54},{"x":0.68,"y":2.28},{"x":1.15,"y":1.87},{"x":1.65,"y":3.4},{"x":1.79,"y":2.58},{"x":1.85,"y":1.6},{"x":2.15,"y":1.87},{"x":2.6,"y":3.24},{"x":2.51,"y":2.85},{"x":2.15,"y":0.29},{"x":2.13,"y":-2.24},{"x":2.6,"y":1.21},{"x":3.27,"y":0.39},{"x":3.38,"y":1.21},{"x":3,"y":-1.99},{"x":1.75,"y":0.2},{"x":2.4,"y":0.6}
],
"e": [
{"x":-3.55,"y":-1.57},{"x":-3.03,"y":-0.49},{"x":-2.79,"y":-3.45},{"x":-2.64,"y":-3.05},{"x":-2.64,"y":-1.2},{"x":-2.48,"y":-1.88},{"x":-2.28,"y":-0.58},{"x":-2.28,"y":-1.26},{"x":-2.03,"y":-0.85},{"x":-2.03,"y":-1.5},
{"x":-1.74,"y":2.8},{"x":-1.74,"y":2.72},{"x":-1.74,"y":1.36},{"x":-1.74,"y":0.8},{"x":-1.74,"y":0.39},{"x":-1.74,"y":-0.12},{"x":-1.74,"y":-0.64},{"x":-1.74,"y":-1.26},{"x":-1.74,"y":-1.84},
{"x":-1.6,"y":1.73},{"x":-1.6,"y":0.3},{"x":-1.6,"y":-0.4},{"x":-1.6,"y":-0.9},{"x":-1.6,"y":-1.2},{"x":-1.6,"y":-2.25},
{"x":-1.45,"y":1.32},{"x":-1.45,"y":0.2},{"x":-1.45,"y":-0.3},{"x":-1.45,"y":-0.8},{"x":-1.45,"y":-2.43},
{"x":-1.3,"y":0},{"x":-1.3,"y":-0.5},{"x":-1.3,"y":-1.05},{"x":-1.3,"y":-1.65},
{"x":-1.13,"y":0.5},{"x":-1.13,"y":0.1},{"x":-1.13,"y":-0.3},{"x":-1.13,"y":-0.7},{"x":-1.13,"y":-1},
{"x":-1,"y":2.39},{"x":-1,"y":2.14},{"x":-1,"y":1.28},{"x":-1,"y":0.6},{"x":-1,"y":0.3},{"x":-1,"y":0},{"x":-1,"y":-0.3},{"x":-1,"y":-0.6},{"x":-1,"y":-0.95},
{"x":-0.82,"y":0.8},{"x":-0.82,"y":0.5},{"x":-0.82,"y":0.25},{"x":-0.82,"y":0},{"x":-0.82,"y":-0.25},{"x":-0.82,"y":-0.5},{"x":-0.82,"y":-0.8},{"x":-0.82,"y":-1.1},{"x":-0.82,"y":-1.6},
{"x":-0.69,"y":0.8},{"x":-0.69,"y":0.55},{"x":-0.69,"y":0.3},{"x":-0.69,"y":0.05},{"x":-0.69,"y":-0.2},{"x":-0.69,"y":-0.45},{"x":-0.69,"y":-0.7},{"x":-0.69,"y":-0.95},{"x":-0.69,"y":-1.25},{"x":-0.69,"y":-1.7},
{"x":-0.53,"y":1.3},{"x":-0.53,"y":0.9},{"x":-0.53,"y":0.65},{"x":-0.53,"y":0.4},{"x":-0.53,"y":0.15},{"x":-0.53,"y":-0.1},{"x":-0.53,"y":-0.35},{"x":-0.53,"y":-0.6},{"x":-0.53,"y":-0.9},{"x":-0.53,"y":-1.2},{"x":-0.53,"y":-1.5},{"x":-0.53,"y":-2.95},
{"x":-0.39,"y":1.83},{"x":-0.39,"y":0.9},{"x":-0.39,"y":0.6},{"x":-0.39,"y":0.35},{"x":-0.39,"y":0.1},{"x":-0.39,"y":-0.15},{"x":-0.39,"y":-0.4},{"x":-0.39,"y":-0.65},{"x":-0.39,"y":-0.9},{"x":-0.39,"y":-1.2},{"x":-0.39,"y":-2.43},
{"x":-0.24,"y":1},{"x":-0.24,"y":0.7},{"x":-0.24,"y":0.45},{"x":-0.24,"y":0.2},{"x":-0.24,"y":-0.05},{"x":-0.24,"y":-0.3},{"x":-0.24,"y":-0.55},{"x":-0.24,"y":-0.85},{"x":-0.24,"y":-1.2},{"x":-0.24,"y":-1.5},
{"x":-0.11,"y":2.56},{"x":-0.11,"y":2.25},{"x":-0.11,"y":1.1},{"x":-0.11,"y":0.8},{"x":-0.11,"y":0.5},{"x":-0.11,"y":0.25},{"x":-0.11,"y":0},{"x":-0.11,"y":-0.25},{"x":-0.11,"y":-0.5},{"x":-0.11,"y":-0.8},{"x":-0.11,"y":-1.1},{"x":-0.11,"y":-1.5},{"x":-0.11,"y":-2.25},
{"x":0.04,"y":1.6},{"x":0.04,"y":0.9},{"x":0.04,"y":0.4},{"x":0.04,"y":-0.2},{"x":0.04,"y":-0.8},{"x":0.04,"y":-1.4},
{"x":0.21,"y":2.82},{"x":0.21,"y":1.6},{"x":0.21,"y":1.2},{"x":0.21,"y":0.9},{"x":0.21,"y":0.6},{"x":0.21,"y":0.35},{"x":0.21,"y":0.1},{"x":0.21,"y":-0.15},{"x":0.21,"y":-0.4},{"x":0.21,"y":-0.7},{"x":0.21,"y":-1},{"x":0.21,"y":-1.3},{"x":0.21,"y":-1.7},{"x":0.21,"y":-2.33},{"x":0.21,"y":-2.85},
{"x":0.34,"y":1.6},{"x":0.34,"y":1.3},{"x":0.34,"y":1},{"x":0.34,"y":0.7},{"x":0.34,"y":0.45},{"x":0.34,"y":0.2},{"x":0.34,"y":-0.05},{"x":0.34,"y":-0.3},{"x":0.34,"y":-0.6},{"x":0.34,"y":-0.9},{"x":0.34,"y":-1.2},{"x":0.34,"y":-1.6},
{"x":0.52,"y":1.3},{"x":0.52,"y":1},{"x":0.52,"y":0.75},{"x":0.52,"y":0.5},{"x":0.52,"y":0.25},{"x":0.52,"y":0},{"x":0.52,"y":-0.25},{"x":0.52,"y":-0.5},{"x":0.52,"y":-0.8},{"x":0.52,"y":-1.1},{"x":0.52,"y":-1.5},
{"x":0.65,"y":1.83},{"x":0.65,"y":1.2},{"x":0.65,"y":0.9},{"x":0.65,"y":0.6},{"x":0.65,"y":0.35},{"x":0.65,"y":0.1},{"x":0.65,"y":-0.15},{"x":0.65,"y":-0.45},{"x":0.65,"y":-0.75},{"x":0.65,"y":-1.05},
{"x":0.79,"y":1.6},{"x":0.79,"y":1.2},{"x":0.79,"y":0.9},{"x":0.79,"y":0.6},{"x":0.79,"y":0.3},{"x":0.79,"y":0},{"x":0.79,"y":-0.3},{"x":0.79,"y":-0.6},{"x":0.79,"y":-0.9},{"x":0.79,"y":-1.35},
{"x":0.94,"y":2.5},{"x":0.94,"y":2.1},{"x":0.94,"y":1},{"x":0.94,"y":0.7},{"x":0.94,"y":0.4},{"x":0.94,"y":0.1},{"x":0.94,"y":-0.2},{"x":0.94,"y":-0.5},{"x":0.94,"y":-0.8},{"x":0.94,"y":-1.4},
{"x":1.1,"y":1.5},{"x":1.1,"y":1.1},{"x":1.1,"y":0.7},{"x":1.1,"y":0.3},{"x":1.1,"y":-0.1},{"x":1.1,"y":-0.5},
{"x":1.26,"y":2.56},{"x":1.26,"y":2.25},{"x":1.26,"y":0.9},{"x":1.26,"y":0.4},{"x":1.26,"y":0},{"x":1.26,"y":-1.05},
{"x":1.41,"y":2.66},{"x":1.41,"y":2.04},{"x":1.41,"y":1.73},{"x":1.41,"y":0.5},{"x":1.41,"y":0.1},{"x":1.41,"y":-0.5},
{"x":1.55,"y":1.63},{"x":1.55,"y":0.3},{"x":1.55,"y":-0.54},{"x":1.71,"y":3.86},{"x":1.71,"y":0.8},{"x":1.71,"y":-2.9},
{"x":1.99,"y":0.8},{"x":1.99,"y":0.19},{"x":2.2,"y":0.5},{"x":2.31,"y":4.06},{"x":2.31,"y":-0.33},{"x":2.49,"y":-0.05},{"x":2.89,"y":-0.12},{"x":3.07,"y":1.57},{"x":3.51,"y":0.9}
],
"f": [
{"x":-1.6,"y":1},{"x":-1.4,"y":0.8},{"x":-1.25,"y":0.95},{"x":-1.1,"y":1.1},{"x":-0.95,"y":0.9},{"x":-0.8,"y":1.05},{"x":-0.65,"y":0.85},{"x":-0.55,"y":1.2},{"x":-0.4,"y":1.3},{"x":-0.3,"y":0.95},{"x":-0.15,"y":1.1},{"x":0.05,"y":0.9},{"x":0.2,"y":1.25},{"x":0.35,"y":1},{"x":0.5,"y":1.35},{"x":0.65,"y":0.95},{"x":0.8,"y":1.5},{"x":0.95,"y":1.1},{"x":1.15,"y":0.9},{"x":1.3,"y":1.3},{"x":0.6,"y":1.7},{"x":0.3,"y":1.6},{"x":-0.05,"y":1.55},{"x":-0.5,"y":1.5},{"x":1,"y":1.9},{"x":0.15,"y":2},
{"x":-1.75,"y":0.3},{"x":-1.6,"y":0.5},{"x":-1.45,"y":0.6},{"x":-1.3,"y":0.4},{"x":-1.2,"y":0.7},{"x":-1.05,"y":0.5},{"x":-0.95,"y":0.3},{"x":-0.85,"y":0.65},{"x":-0.75,"y":0.45},{"x":-0.65,"y":0.6},{"x":-0.55,"y":0.35},{"x":-0.45,"y":0.7},{"x":-0.35,"y":0.5},{"x":-0.25,"y":0.75},{"x":-0.15,"y":0.4},{"x":-0.05,"y":0.6},{"x":0.05,"y":0.35},{"x":0.12,"y":0.75},{"x":0.22,"y":0.5},{"x":0.32,"y":0.8},{"x":0.42,"y":0.4},{"x":0.52,"y":0.65},{"x":0.62,"y":0.45},{"x":0.72,"y":0.75},{"x":0.85,"y":0.55},{"x":0.98,"y":0.7},{"x":1.1,"y":0.4},{"x":1.25,"y":0.6},{"x":1.4,"y":0.35},{"x":1.55,"y":0.6},{"x":1.7,"y":0.5},{"x":-1.9,"y":0.55},
{"x":-2,"y":0.05},{"x":-1.8,"y":-0.1},{"x":-1.65,"y":0.15},{"x":-1.5,"y":-0.05},{"x":-1.38,"y":0.1},{"x":-1.25,"y":-0.15},{"x":-1.12,"y":0.2},{"x":-1,"y":-0.05},{"x":-0.9,"y":0.12},{"x":-0.8,"y":-0.2},{"x":-0.7,"y":0.05},{"x":-0.62,"y":0.2},{"x":-0.52,"y":-0.1},{"x":-0.45,"y":0.1},{"x":-0.38,"y":-0.2},{"x":-0.3,"y":0.18},{"x":-0.22,"y":-0.05},{"x":-0.12,"y":0.1},{"x":-0.05,"y":-0.15},{"x":0.03,"y":0.05},{"x":0.1,"y":-0.2},{"x":0.17,"y":0.2},{"x":0.25,"y":-0.05},{"x":0.33,"y":0.12},{"x":0.4,"y":-0.18},{"x":0.48,"y":0.05},{"x":0.57,"y":0.2},{"x":0.65,"y":-0.1},{"x":0.75,"y":0.1},{"x":0.85,"y":-0.15},{"x":0.95,"y":0.2},{"x":1.05,"y":-0.05},{"x":1.18,"y":0.15},{"x":1.3,"y":-0.2},{"x":1.45,"y":0.05},{"x":1.6,"y":0.2},{"x":1.8,"y":-0.1},
{"x":-1.85,"y":-0.45},{"x":-1.7,"y":-0.6},{"x":-1.55,"y":-0.35},{"x":-1.42,"y":-0.7},{"x":-1.3,"y":-0.5},{"x":-1.18,"y":-0.8},{"x":-1.05,"y":-0.4},{"x":-0.95,"y":-0.65},{"x":-0.85,"y":-0.35},{"x":-0.75,"y":-0.75},{"x":-0.65,"y":-0.5},{"x":-0.55,"y":-0.3},{"x":-0.48,"y":-0.65},{"x":-0.4,"y":-0.45},{"x":-0.32,"y":-0.8},{"x":-0.25,"y":-0.35},{"x":-0.17,"y":-0.6},{"x":-0.08,"y":-0.4},{"x":0,"y":-0.7},{"x":0.08,"y":-0.35},{"x":0.15,"y":-0.55},{"x":0.22,"y":-0.8},{"x":0.3,"y":-0.4},{"x":0.38,"y":-0.65},{"x":0.46,"y":-0.3},{"x":0.55,"y":-0.55},{"x":0.63,"y":-0.75},{"x":0.72,"y":-0.4},{"x":0.82,"y":-0.6},{"x":0.92,"y":-0.35},{"x":1.02,"y":-0.7},{"x":1.15,"y":-0.45},{"x":1.3,"y":-0.6},{"x":1.5,"y":-0.4},{"x":1.7,"y":-0.7},{"x":-2.05,"y":-0.7},
{"x":-1.7,"y":-1},{"x":-1.5,"y":-1.2},{"x":-1.35,"y":-0.95},{"x":-1.2,"y":-1.3},{"x":-1.05,"y":-1.05},{"x":-0.9,"y":-1.25},{"x":-0.78,"y":-0.95},{"x":-0.65,"y":-1.4},{"x":-0.55,"y":-1.1},{"x":-0.42,"y":-0.9},{"x":-0.35,"y":-1.3},{"x":-0.22,"y":-1.05},{"x":-0.12,"y":-1.35},{"x":-0.02,"y":-0.95},{"x":0.08,"y":-1.2},{"x":0.18,"y":-1},{"x":0.28,"y":-1.4},{"x":0.38,"y":-1.1},{"x":0.5,"y":-0.95},{"x":0.6,"y":-1.25},{"x":0.72,"y":-1.05},{"x":0.85,"y":-1.3},{"x":1,"y":-1},{"x":1.2,"y":-1.2},{"x":1.45,"y":-1},{"x":-1.95,"y":-1.3},
{"x":-1.2,"y":-1.7},{"x":-0.9,"y":-1.55},{"x":-0.6,"y":-1.8},{"x":-0.4,"y":-1.6},{"x":-0.1,"y":-1.75},{"x":0.1,"y":-1.5},{"x":0.3,"y":-1.9},{"x":0.5,"y":-1.6},{"x":1,"y":-1.7},{"x":-1.6,"y":-1.6},{"x":-0.8,"y":-2},
{"x":-3.47,"y":-2.93},{"x":-3.06,"y":-2.74},{"x":-2.85,"y":1.75},{"x":-2.9,"y":-0.56},{"x":-2.75,"y":0.16},{"x":-2.36,"y":-1.5},{"x":-2.21,"y":-1.65},{"x":-2.25,"y":0.16},{"x":-2.16,"y":-0.1},{"x":-1.8,"y":-2.58},{"x":-1.75,"y":-1.8},{"x":-1.53,"y":-2.1},{"x":-1.53,"y":-3.71},{"x":-1.45,"y":-2},{"x":-1.23,"y":1.11},{"x":-1.13,"y":-2.77},{"x":-1.05,"y":-2.1},{"x":-1,"y":-2.35},{"x":-0.9,"y":-1.8},{"x":-0.72,"y":-2.93},{"x":-0.47,"y":1.65},{"x":-0.3,"y":-2},{"x":-0.27,"y":2.33},{"x":-0.16,"y":2.98},{"x":0.23,"y":2.1},{"x":0.52,"y":2.27},{"x":0.79,"y":2.68},{"x":0.83,"y":3.61},{"x":0.81,"y":-1.8},{"x":1.58,"y":3.13},{"x":1.58,"y":1.65},{"x":1.62,"y":1.5},{"x":1.35,"y":-1.5},{"x":1.69,"y":-1.65},{"x":1.85,"y":-0.4},{"x":2,"y":1.44},{"x":2.05,"y":1.35},{"x":2,"y":-1.03},{"x":2.32,"y":-1.03},{"x":2.52,"y":1.4},{"x":2.45,"y":1},{"x":2.48,"y":-0.1},{"x":2.7,"y":-1.8},{"x":2.75,"y":-1.8},{"x":2.75,"y":0.16},{"x":3.78,"y":1.75},{"x":3.98,"y":2.37},{"x":1.4,"y":0.9},{"x":1.75,"y":1}
],
"fa": [{"x":-3.84,"y":-1.42,"lo":-1.7,"hi":-1.14},{"x":-3,"y":-1.11,"lo":-1.32,"hi":-0.9},{"x":-2,"y":-0.74,"lo":-0.88,"hi":-0.6},{"x":-1,"y":-0.37,"lo":-0.45,"hi":-0.29},{"x":0,"y":0,"lo":-0.05,"hi":0.05},{"x":1,"y":0.37,"lo":0.29,"hi":0.45},{"x":2,"y":0.74,"lo":0.61,"hi":0.87},{"x":3,"y":1.11,"lo":0.91,"hi":1.31},{"x":3.72,"y":1.38,"lo":1.14,"hi":1.62}],
"fb": [{"x":-3.53,"y":-1.22,"lo":-1.48,"hi":-0.96},{"x":-2.5,"y":-0.86,"lo":-1.04,"hi":-0.68},{"x":-1.5,"y":-0.51,"lo":-0.62,"hi":-0.4},{"x":-0.5,"y":-0.16,"lo":-0.22,"hi":-0.1},{"x":0.5,"y":0.2,"lo":0.14,"hi":0.26},{"x":1.5,"y":0.55,"lo":0.44,"hi":0.66},{"x":2.5,"y":0.9,"lo":0.72,"hi":1.08},{"x":3.36,"y":1.2,"lo":0.95,"hi":1.45}],
"fc": [{"x":-3.95,"y":-1.64,"lo":-1.92,"hi":-1.36},{"x":-3,"y":-1.25,"lo":-1.46,"hi":-1.04},{"x":-2,"y":-0.83,"lo":-0.97,"hi":-0.69},{"x":-1,"y":-0.42,"lo":-0.49,"hi":-0.35},{"x":0,"y":0,"lo":-0.04,"hi":0.04},{"x":1,"y":0.42,"lo":0.35,"hi":0.49},{"x":2,"y":0.83,"lo":0.7,"hi":0.96},{"x":3,"y":1.25,"lo":1.05,"hi":1.45},{"x":3.8,"y":1.58,"lo":1.32,"hi":1.84}],
"fd": [{"x":-3.4,"y":-0.74,"lo":-1.08,"hi":-0.4},{"x":-2.5,"y":-0.52,"lo":-0.77,"hi":-0.27},{"x":-1.5,"y":-0.28,"lo":-0.43,"hi":-0.13},{"x":-0.5,"y":-0.04,"lo":-0.12,"hi":0.04},{"x":0.5,"y":0.2,"lo":0.12,"hi":0.28},{"x":1.5,"y":0.44,"lo":0.31,"hi":0.57},{"x":2.5,"y":0.68,"lo":0.48,"hi":0.88},{"x":3.4,"y":0.9,"lo":0.63,"hi":1.17}],
"fe": [{"x":-3.6,"y":-1.01,"lo":-1.33,"hi":-0.69},{"x":-2.5,"y":-0.72,"lo":-0.94,"hi":-0.5},{"x":-1.5,"y":-0.46,"lo":-0.59,"hi":-0.33},{"x":-0.5,"y":-0.2,"lo":-0.28,"hi":-0.12},{"x":0.5,"y":0.06,"lo":-0.02,"hi":0.14},{"x":1.5,"y":0.32,"lo":0.18,"hi":0.46},{"x":2.5,"y":0.58,"lo":0.33,"hi":0.83},{"x":3.5,"y":0.84,"lo":0.48,"hi":1.2}],
"ff": [{"x":-3.47,"y":-0.89,"lo":-1.25,"hi":-0.53},{"x":-2.5,"y":-0.64,"lo":-0.9,"hi":-0.38},{"x":-1.5,"y":-0.37,"lo":-0.53,"hi":-0.21},{"x":-0.5,"y":-0.11,"lo":-0.19,"hi":-0.03},{"x":0.5,"y":0.15,"lo":0.07,"hi":0.23},{"x":1.5,"y":0.41,"lo":0.25,"hi":0.57},{"x":2.5,"y":0.68,"lo":0.41,"hi":0.95},{"x":3.5,"y":0.94,"lo":0.58,"hi":1.3},{"x":3.98,"y":1.07,"lo":0.63,"hi":1.51}]
},
"concat": [
{"width": 325, "height": 143, "title": "Resilience 1 ~ Well-being 1",
 "encoding": {"x": {"field": "x", "type": "quantitative", "scale": {"domain": [-4.4, 4.4], "nice": false, "zero": false}, "axis": {"title": "Well-being MZ twin difference", "values": [-4, -2, 0, 2, 4]}},
              "y": {"field": "y", "type": "quantitative", "scale": {"domain": [-4.4, 4.4], "nice": false, "zero": false}, "axis": {"title": "Resilience MZ twin difference", "values": [-4, -2, 0, 2, 4]}}},
 "layer": [
  {"data": {"name": "a"}, "mark": {"type": "circle", "size": 10, "color": "#000", "opacity": 1}},
  {"data": {"values": [{}]}, "mark": {"type": "rule", "color": "#3a3a3a", "strokeWidth": 1.3}, "encoding": {"y": {"datum": 0}, "x": {"datum": -4.4}, "x2": {"datum": 4.4}}},
  {"data": {"values": [{}]}, "mark": {"type": "rule", "color": "#3a3a3a", "strokeWidth": 1.3}, "encoding": {"x": {"datum": 0}, "y": {"datum": -4.4}, "y2": {"datum": 4.4}}},
  {"data": {"name": "fa"}, "mark": {"type": "area", "color": "#999999", "opacity": 0.7}, "encoding": {"y": {"field": "lo", "type": "quantitative"}, "y2": {"field": "hi"}}},
  {"data": {"name": "fa"}, "mark": {"type": "line", "color": "#000", "strokeWidth": 2.6, "strokeDash": [9, 5]}, "encoding": {}}
 ]},
{"width": 325, "height": 143, "title": "Well-being 1 ~ Resilience 1",
 "encoding": {"x": {"field": "x", "type": "quantitative", "scale": {"domain": [-4.4, 4.4], "nice": false, "zero": false}, "axis": {"title": "Resilience MZ twin difference", "values": [-4, -2, 0, 2, 4]}},
              "y": {"field": "y", "type": "quantitative", "scale": {"domain": [-4.4, 4.4], "nice": false, "zero": false}, "axis": {"title": "Well-being MZ twin difference", "values": [-4, -2, 0, 2, 4]}}},
 "layer": [
  {"data": {"name": "b"}, "mark": {"type": "circle", "size": 10, "color": "#000", "opacity": 1}},
  {"data": {"values": [{}]}, "mark": {"type": "rule", "color": "#3a3a3a", "strokeWidth": 1.3}, "encoding": {"y": {"datum": 0}, "x": {"datum": -4.4}, "x2": {"datum": 4.4}}},
  {"data": {"values": [{}]}, "mark": {"type": "rule", "color": "#3a3a3a", "strokeWidth": 1.3}, "encoding": {"x": {"datum": 0}, "y": {"datum": -4.4}, "y2": {"datum": 4.4}}},
  {"data": {"name": "fb"}, "mark": {"type": "area", "color": "#999999", "opacity": 0.7}, "encoding": {"y": {"field": "lo", "type": "quantitative"}, "y2": {"field": "hi"}}},
  {"data": {"name": "fb"}, "mark": {"type": "line", "color": "#000", "strokeWidth": 2.6, "strokeDash": [9, 5]}, "encoding": {}}
 ]},
{"width": 325, "height": 144, "title": "Resilience 2 ~ Well-being 2",
 "encoding": {"x": {"field": "x", "type": "quantitative", "scale": {"domain": [-4.4, 4.4], "nice": false, "zero": false}, "axis": {"title": "Well-being MZ twin difference", "values": [-4, -2, 0, 2, 4]}},
              "y": {"field": "y", "type": "quantitative", "scale": {"domain": [-4.4, 4.4], "nice": false, "zero": false}, "axis": {"title": "Resilience MZ twin difference", "values": [-4, -2, 0, 2, 4]}}},
 "layer": [
  {"data": {"name": "c"}, "mark": {"type": "circle", "size": 10, "color": "#000", "opacity": 1}},
  {"data": {"values": [{}]}, "mark": {"type": "rule", "color": "#3a3a3a", "strokeWidth": 1.3}, "encoding": {"y": {"datum": 0}, "x": {"datum": -4.4}, "x2": {"datum": 4.4}}},
  {"data": {"values": [{}]}, "mark": {"type": "rule", "color": "#3a3a3a", "strokeWidth": 1.3}, "encoding": {"x": {"datum": 0}, "y": {"datum": -4.4}, "y2": {"datum": 4.4}}},
  {"data": {"name": "fc"}, "mark": {"type": "area", "color": "#999999", "opacity": 0.7}, "encoding": {"y": {"field": "lo", "type": "quantitative"}, "y2": {"field": "hi"}}},
  {"data": {"name": "fc"}, "mark": {"type": "line", "color": "#000", "strokeWidth": 2.6, "strokeDash": [9, 5]}, "encoding": {}}
 ]},
{"width": 325, "height": 144, "title": "Well-being 2 ~ Resilience 2",
 "encoding": {"x": {"field": "x", "type": "quantitative", "scale": {"domain": [-4.4, 4.4], "nice": false, "zero": false}, "axis": {"title": "Resilience MZ twin difference", "values": [-4, -2, 0, 2, 4]}},
              "y": {"field": "y", "type": "quantitative", "scale": {"domain": [-4.4, 4.4], "nice": false, "zero": false}, "axis": {"title": "Well-being MZ twin difference", "values": [-4, -2, 0, 2, 4]}}},
 "layer": [
  {"data": {"name": "d"}, "mark": {"type": "circle", "size": 10, "color": "#000", "opacity": 1}},
  {"data": {"values": [{}]}, "mark": {"type": "rule", "color": "#3a3a3a", "strokeWidth": 1.3}, "encoding": {"y": {"datum": 0}, "x": {"datum": -4.4}, "x2": {"datum": 4.4}}},
  {"data": {"values": [{}]}, "mark": {"type": "rule", "color": "#3a3a3a", "strokeWidth": 1.3}, "encoding": {"x": {"datum": 0}, "y": {"datum": -4.4}, "y2": {"datum": 4.4}}},
  {"data": {"name": "fd"}, "mark": {"type": "area", "color": "#999999", "opacity": 0.7}, "encoding": {"y": {"field": "lo", "type": "quantitative"}, "y2": {"field": "hi"}}},
  {"data": {"name": "fd"}, "mark": {"type": "line", "color": "#000", "strokeWidth": 2.6, "strokeDash": [9, 5]}, "encoding": {}}
 ]},
{"width": 325, "height": 144, "title": {"text": "Δ Resilience ~ Δ Well-being", "dy": 20},
 "encoding": {"x": {"field": "x", "type": "quantitative", "scale": {"domain": [-4.4, 4.4], "nice": false, "zero": false}, "axis": {"title": "Well-being longitudinal MZ twin difference", "values": [-4, -2, 0, 2, 4]}},
              "y": {"field": "y", "type": "quantitative", "scale": {"domain": [-4.4, 4.4], "nice": false, "zero": false}, "axis": {"title": "Resilience longitudinal MZ twin difference", "values": [-4, -2, 0, 2, 4], "titleLimit": 196}}},
 "layer": [
  {"data": {"name": "e"}, "mark": {"type": "circle", "size": 10, "color": "#000", "opacity": 1}},
  {"data": {"values": [{}]}, "mark": {"type": "rule", "color": "#3a3a3a", "strokeWidth": 1.3}, "encoding": {"y": {"datum": 0}, "x": {"datum": -4.4}, "x2": {"datum": 4.4}}},
  {"data": {"values": [{}]}, "mark": {"type": "rule", "color": "#3a3a3a", "strokeWidth": 1.3}, "encoding": {"x": {"datum": 0}, "y": {"datum": -4.4}, "y2": {"datum": 4.4}}},
  {"data": {"name": "fe"}, "mark": {"type": "area", "color": "#999999", "opacity": 0.7}, "encoding": {"y": {"field": "lo", "type": "quantitative"}, "y2": {"field": "hi"}}},
  {"data": {"name": "fe"}, "mark": {"type": "line", "color": "#000", "strokeWidth": 2.6, "strokeDash": [9, 5]}, "encoding": {}}
 ]},
{"width": 325, "height": 144, "title": {"text": "Δ Well-being ~ Δ Resilience", "dy": 20},
 "encoding": {"x": {"field": "x", "type": "quantitative", "scale": {"domain": [-4.4, 4.4], "nice": false, "zero": false}, "axis": {"title": "Resilience longitudinal MZ twin difference", "values": [-4, -2, 0, 2, 4]}},
              "y": {"field": "y", "type": "quantitative", "scale": {"domain": [-4.4, 4.4], "nice": false, "zero": false}, "axis": {"title": "Well-being longitudinal MZ twin difference", "values": [-4, -2, 0, 2, 4], "titleLimit": 196}}},
 "layer": [
  {"data": {"name": "f"}, "mark": {"type": "circle", "size": 10, "color": "#000", "opacity": 1}},
  {"data": {"values": [{}]}, "mark": {"type": "rule", "color": "#3a3a3a", "strokeWidth": 1.3}, "encoding": {"y": {"datum": 0}, "x": {"datum": -4.4}, "x2": {"datum": 4.4}}},
  {"data": {"values": [{}]}, "mark": {"type": "rule", "color": "#3a3a3a", "strokeWidth": 1.3}, "encoding": {"x": {"datum": 0}, "y": {"datum": -4.4}, "y2": {"datum": 4.4}}},
  {"data": {"name": "ff"}, "mark": {"type": "area", "color": "#999999", "opacity": 0.7}, "encoding": {"y": {"field": "lo", "type": "quantitative"}, "y2": {"field": "hi"}}},
  {"data": {"name": "ff"}, "mark": {"type": "line", "color": "#000", "strokeWidth": 2.6, "strokeDash": [9, 5]}, "encoding": {}}
 ]}
]
}
